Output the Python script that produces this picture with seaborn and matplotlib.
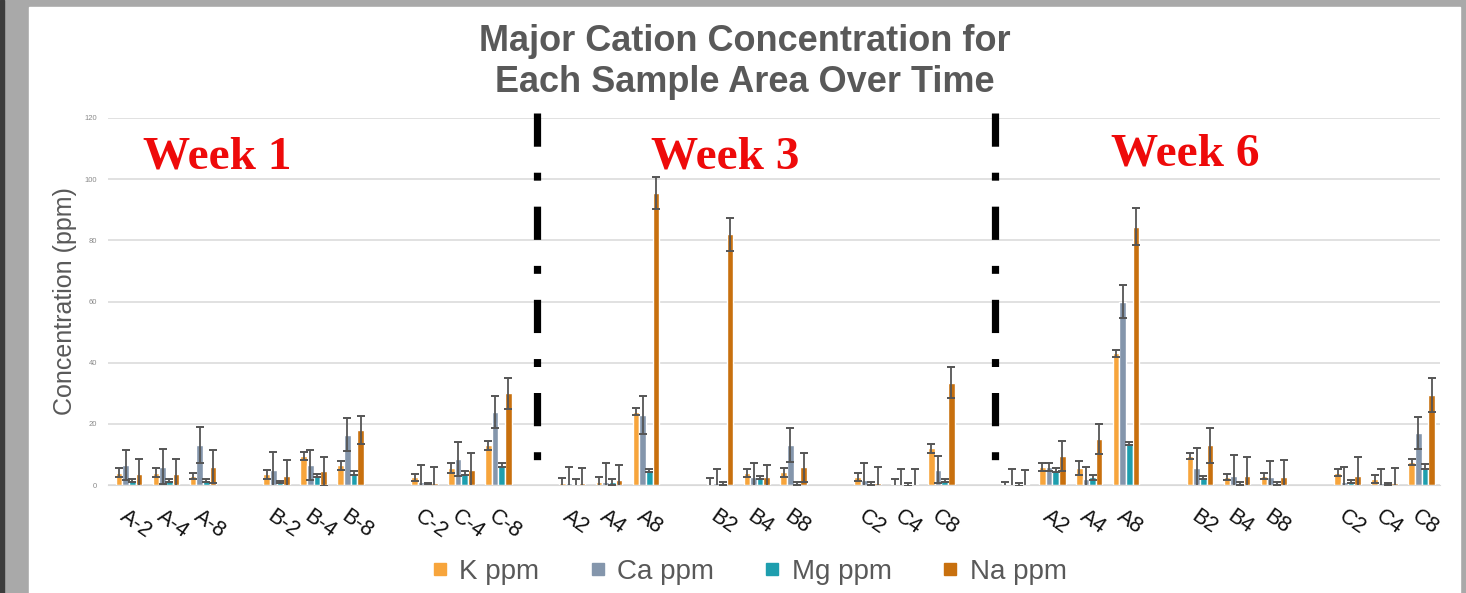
import numpy as np
import pandas as pd
import seaborn as sns
import matplotlib.pyplot as plt
from matplotlib.patches import Rectangle
from matplotlib.lines import Line2D
import matplotlib.transforms as mtransforms

sns.set_style('white')
plt.rcParams['font.family'] = ['Liberation Sans', 'DejaVu Sans']

# x slots: week 1 | week 3 | week 6, empty slots between the sample areas
tick_labels = ['A-2', 'A-4', 'A-8', '', 'B-2', 'B-4', 'B-8', '', 'C-2', 'C-4', 'C-8',
               '',
               'A2', 'A4', 'A8', '', 'B2', 'B4', 'B8', '', 'C2', 'C4', 'C8',
               '', '',
               'A2', 'A4', 'A8', '', 'B2', 'B4', 'B8', '', 'C2', 'C4', 'C8']

ions = ['K ppm', 'Ca ppm', 'Mg ppm', 'Na ppm']
colors = ['#F7A53C', '#8496AC', '#1E9EAE', '#C8700E']
N = None

k_ppm = [4.0, 4.0, 2.8, N, 3.5, 9.5, 6.5, N, 2.5, 5.5, 13.0,
         N,
         0.5, 1.0, 24.0, N, 0.3, 3.8, 4.2, N, 2.5, 0.3, 12.0,
         N, 0.3,
         6.0, 5.5, 43.0, N, 9.5, 2.5, 3.0, N, 4.0, 2.0, 7.5]
k_err = [1.4, 1.5, 1.0, N, 1.5, 1.4, 1.5, N, 1.1, 1.6, 1.4,
         N,
         1.7, 1.5, 1.1, N, 1.9, 1.3, 1.5, N, 1.3, 1.8, 1.4,
         N, 0.8,
         1.3, 2.2, 1.1, N, 1.1, 1.0, 1.0, N, 1.2, 1.3, 1.0]

ca_ppm = [6.5, 6.0, 13.0, N, 5.0, 6.5, 16.5, N, 1.0, 8.5, 24.0,
          N,
          0.5, 1.0, 23.0, N, 0.5, 2.7, 13.0, N, 1.5, 0.3, 5.0,
          N, 0.3,
          6.0, 2.0, 60.0, N, 5.5, 3.0, 2.5, N, 1.0, 0.5, 17.0]
ca_err = [5.0, 5.8, 5.9, N, 5.8, 5.0, 5.4, N, 5.6, 5.4, 5.2,
          N,
          5.3, 6.1, 6.2, N, 4.6, 4.6, 5.6, N, 5.8, 4.8, 4.5,
          N, 4.8,
          1.3, 3.8, 5.5, N, 6.5, 6.8, 5.5, N, 5.0, 4.7, 5.2]

mg_ppm = [1.5, 1.5, 1.5, N, 1.0, 3.0, 4.0, N, 0.5, 4.0, 6.5,
          N,
          0.3, 1.0, 4.8, N, 0.5, 2.5, 0.5, N, 0.5, 0.3, 1.5,
          N, 0.3,
          5.0, 2.5, 13.7, N, 2.5, 0.5, 0.5, N, 1.0, 0.3, 6.0]
mg_err = [0.5, 0.6, 0.5, N, 0.4, 0.5, 0.6, N, 0.3, 0.6, 0.6,
          N,
          1.8, 1.0, 0.5, N, 0.4, 0.4, 0.5, N, 0.5, 0.5, 0.5,
          N, 0.5,
          0.6, 0.8, 0.5, N, 0.6, 0.4, 0.4, N, 0.5, 0.3, 0.8]

na_ppm = [3.5, 3.5, 6.0, N, 3.0, 4.5, 18.0, N, 0.5, 5.0, 30.0,
          N,
          0.5, 1.5, 95.5, N, 82.0, 2.5, 5.8, N, 0.5, 0.3, 33.5,
          N, 0.3,
          9.5, 15.0, 84.5, N, 13.0, 3.0, 2.5, N, 3.0, 0.5, 29.5]
na_err = [5.0, 5.0, 5.5, N, 5.2, 4.8, 4.6, N, 5.5, 5.6, 5.0,
          N,
          5.2, 5.1, 5.3, N, 5.4, 4.1, 4.8, N, 5.5, 5.0, 5.2,
          N, 4.6,
          4.9, 5.0, 6.0, N, 5.8, 6.0, 5.7, N, 6.0, 5.0, 5.5]

week_labels = ['Week 1', 'Week 3', 'Week 6']

values = [k_ppm, ca_ppm, mg_ppm, na_ppm]
errors = [k_err, ca_err, mg_err, na_err]
slots = ['s%02d' % i for i in range(len(tick_labels))]

rows = []
for ion, vals in zip(ions, values):
    for s, v in zip(slots, vals):
        if v is not None:
            rows.append((s, ion, v))
df = pd.DataFrame(rows, columns=['slot', 'ion', 'ppm'])

fig = plt.figure(figsize=(14.66, 5.93), dpi=100, facecolor='#a9a9a9')
# slide-like frame around the chart
fig.patches.append(Rectangle((0, 0), 4 / 1466, 1, transform=fig.transFigure,
                             color='#3c3c3c', zorder=-2))
fig.patches.append(Rectangle((29 / 1466, 0), 1431 / 1466, 586 / 593,
                             transform=fig.transFigure, color='white', zorder=-1))

ax = fig.add_axes([108 / 1466, 108 / 593, 1332 / 1466, 367 / 593])
sns.barplot(data=df, x='slot', y='ppm', hue='ion', order=slots, hue_order=ions,
            palette=colors, saturation=1, errorbar=None, width=0.72,
            legend=False, ax=ax)

# error bars on top of each bar
for cont, errs in zip(ax.containers, errors):
    xs, ys, es = [], [], []
    for bar in cont:
        cx = bar.get_x() + bar.get_width() / 2
        idx = int(round(cx))
        e = errs[idx]
        if e is None:
            continue
        xs.append(cx)
        ys.append(bar.get_height())
        es.append(e)
    ax.errorbar(xs, ys, yerr=es, fmt='none', ecolor='#555555',
                elinewidth=1.3, capsize=2.6, capthick=1.4, zorder=3)

ax.set_ylim(0, 120)
ax.set_xlim(-0.57, 35.5)
ax.set_yticks(np.arange(0, 121, 20))
ax.yaxis.grid(True, color='#d9d9d9', linewidth=1.1)
ax.set_axisbelow(True)
for sp in ['top', 'right', 'left']:
    ax.spines[sp].set_visible(False)
ax.spines['bottom'].set_color('#d9d9d9')
ax.tick_params(axis='y', length=0, labelsize=5.5, labelcolor='#8a8a8a', pad=8)
ax.tick_params(axis='x', length=0, pad=15)

ax.set_xticks(range(len(tick_labels)))
ax.set_xticklabels(tick_labels, rotation=-35, ha='left', rotation_mode='anchor',
                   fontsize=15.5, color='#111111')
shift = mtransforms.ScaledTranslation(-1 / 100, 0, fig.dpi_scale_trans)
for lab in ax.get_xticklabels():
    lab.set_transform(lab.get_transform() + shift)

ax.set_xlabel('')
ax.set_ylabel('Concentration (ppm)', fontsize=18, color='#595959', labelpad=5)

# week dividers
for xd in [11.05, 23.45]:
    ax.plot([xd, xd], [121.5, 5], color='black', linewidth=5.2,
            linestyle=(0, (4.6, 3.6, 1.1, 3.6)), dash_capstyle='butt',
            clip_on=False, zorder=4)

for xw, yw, txt in zip([2.4, 16.15, 28.6], [107, 107, 108], week_labels):
    ax.text(xw, yw, txt, ha='center', va='center', fontsize=34,
            fontweight='bold', color='#ee0a0a', family='Liberation Serif')

fig.text(0.508, 1 - 62 / 593, 'Major Cation Concentration for\nEach Sample Area Over Time',
         ha='center', va='center', fontsize=26, fontweight='bold',
         color='#595959', linespacing=1.24)

handles = [Line2D([], [], marker='s', linestyle='', markersize=8, color=c) for c in colors]
leg = fig.legend(handles, ions, loc='center', bbox_to_anchor=(0.51, 1 - 572 / 593),
                 ncol=4, frameon=False, fontsize=20, handlelength=0.8,
                 handletextpad=0.3, columnspacing=1.7)
for t in leg.get_texts():
    t.set_color('#595959')

fig.savefig('out.png', dpi=100, facecolor=fig.get_facecolor())
